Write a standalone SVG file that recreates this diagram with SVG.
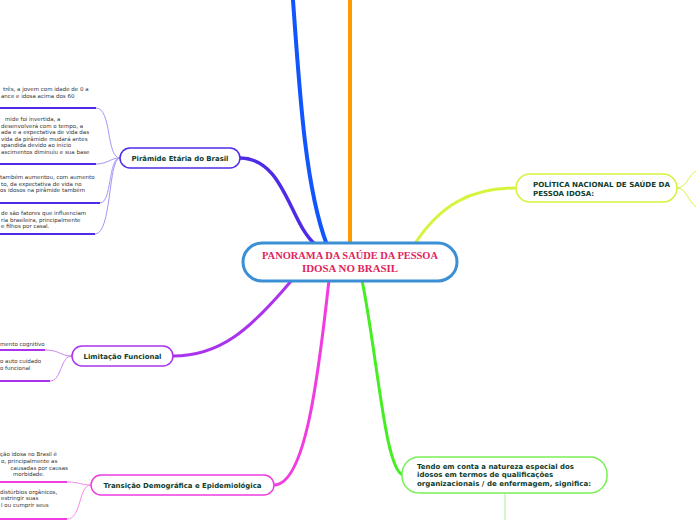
<svg xmlns="http://www.w3.org/2000/svg" width="696" height="520" viewBox="0 0 696 520">
<style>
.conn{fill:none;stroke-linecap:round}
.nodet{font-family:"DejaVu Sans",Verdana,sans-serif;font-weight:bold;font-size:7px;fill:#0f3d2e}
.small{font-family:"DejaVu Sans",Verdana,sans-serif;font-size:5.5px;fill:#333}
.sub{fill:none;stroke-width:1}
.ul{fill:none;stroke-width:2}
.box{fill:#fff}
</style>
<rect width="696" height="520" fill="#fff"/>
<g id="connectors">
  <path class="conn" d="M293,0 C300,100 306,190 327,245" stroke="#1155ff" stroke-width="4"/>
  <path class="conn" d="M350,0 V245" stroke="#ff9900" stroke-width="4"/>
  <path class="conn" d="M240,158 C285,158 290,225 316,245" stroke="#4f2be8" stroke-width="3.5"/>
  <path class="conn" d="M414,245 C440,205 470,188 516,188" stroke="#d4f53c" stroke-width="3"/>
  <path class="conn" d="M362,280 C378,360 385,470 403,475" stroke="#44ee22" stroke-width="3"/>
  <path class="conn" d="M329,280 C318,380 305,485 274,485" stroke="#f03ce0" stroke-width="3"/>
  <path class="conn" d="M292,280 C250,330 220,356 173,356" stroke="#aa33ee" stroke-width="3"/>
  <!-- Pirâmide sub-branches -->
  <g stroke="#a596f6">
    <path class="sub" d="M96,108 C112,108 106,158 120,158"/>
    <path class="sub" d="M96,164 C108,164 110,158 120,158"/>
    <path class="sub" d="M100,203 C112,203 108,158 120,158"/>
    <path class="sub" d="M95,234 C112,234 108,158 120,158"/>
  </g>
  <g stroke="#4f2be8">
    <path class="ul" d="M0,108 H96"/>
    <path class="ul" d="M0,164 H96"/>
    <path class="ul" d="M0,203 H100"/>
    <path class="ul" d="M0,234 H95"/>
  </g>
  <!-- Limitação sub-branches -->
  <g stroke="#cc88f2">
    <path class="sub" d="M45,350 C60,350 60,356 72,356"/>
    <path class="sub" d="M50,381 C62,381 60,356 72,356"/>
  </g>
  <g stroke="#aa33ee">
    <path class="ul" d="M0,350 H45"/>
    <path class="ul" d="M0,381 H50"/>
  </g>
  <!-- Transição sub-branches -->
  <g stroke="#f58be8">
    <path class="sub" d="M67,482 C80,482 80,485 91,485"/>
    <path class="sub" d="M67,519 C82,519 78,485 91,485"/>
  </g>
  <g stroke="#f03ce0">
    <path class="ul" d="M0,482 H67"/>
    <path class="ul" d="M0,519 H67"/>
  </g>
  <!-- Política right sub-branches -->
  <g stroke="#d4f53c">
    <path class="sub" d="M677,188 C686,188 688,176 696,171"/>
    <path class="sub" d="M677,188 C686,188 688,201 696,207"/>
  </g>
  <path class="sub" d="M505,493 V520" stroke="#aaee99"/>
</g>
<g id="center">
  <rect x="243" y="243" width="214" height="38" rx="19" fill="#fff" stroke="#3b8fd4" stroke-width="3"/>
  <text x="350" y="259" text-anchor="middle" font-family="Liberation Serif,serif" font-weight="bold" font-size="10" fill="#e0245e" textLength="176" lengthAdjust="spacingAndGlyphs">PANORAMA DA SAÚDE DA PESSOA</text>
  <text x="350" y="272" text-anchor="middle" font-family="Liberation Serif,serif" font-weight="bold" font-size="10" fill="#e0245e" textLength="96" lengthAdjust="spacingAndGlyphs">IDOSA NO BRASIL</text>
</g>
<g id="piramide">
  <rect class="box" x="120" y="148" width="120" height="20" rx="10" stroke="#4f2be8" stroke-width="1.5"/>
  <text class="nodet" x="180" y="161" text-anchor="middle" textLength="97" lengthAdjust="spacingAndGlyphs">Pirâmide Etária do Brasil</text>
</g>
<g id="piramide-texts" class="small">
  <text class="small" x="3" y="91">três, a jovem com idade de 0 a</text>
  <text class="small" x="1" y="98">ance e idosa acima dos 60</text>
  <text class="small" x="5" y="121">mide foi invertida, a</text>
  <text class="small" x="1" y="127.5">desenvolverá com o tempo, a</text>
  <text class="small" x="1" y="134">ada e a expectativa de vida das</text>
  <text class="small" x="1" y="140.5">vida da pirâmide mudará antes</text>
  <text class="small" x="1" y="147">spandida devido ao início</text>
  <text class="small" x="1" y="153.5">ascimentos diminuiu e sua base</text>
  <text class="small" x="0" y="179">também aumentou, com aumento</text>
  <text class="small" x="1" y="185.5">to, da expectativa de vida no</text>
  <text class="small" x="0" y="192">os idosos na pirâmide também</text>
  <text class="small" x="1" y="215">de são fatores que influenciam</text>
  <text class="small" x="1" y="221.5">ria brasileira, principalmente</text>
  <text class="small" x="1" y="228">e filhos por casal.</text>
</g>
<g id="limitacao">
  <rect class="box" x="72" y="346" width="101" height="20" rx="10" stroke="#aa33ee" stroke-width="1.5"/>
  <text class="nodet" x="122.5" y="359" text-anchor="middle" textLength="78" lengthAdjust="spacingAndGlyphs">Limitação Funcional</text>
</g>
<g id="limitacao-texts">
  <text class="small" x="0" y="345.5">mento cognitivo</text>
  <text class="small" x="0" y="363">o auto cuidado</text>
  <text class="small" x="0" y="370">o funcional</text>
</g>
<g id="transicao">
  <rect class="box" x="91" y="475" width="183" height="20" rx="10" stroke="#f03ce0" stroke-width="1.5"/>
  <text class="nodet" x="182.5" y="488" text-anchor="middle" textLength="158" lengthAdjust="spacingAndGlyphs">Transição Demográfica e Epidemiológica</text>
</g>
<g id="transicao-texts">
  <text class="small" x="0" y="456">ção idosa no Brasil é</text>
  <text class="small" x="1" y="463">o, principalmente as</text>
  <text class="small" x="10.5" y="469.5">causadas por causas</text>
  <text class="small" x="13" y="476">morbidade.</text>
  <text class="small" x="0" y="493.5">distúrbios orgânicos,</text>
  <text class="small" x="1" y="500">estringir suas</text>
  <text class="small" x="1" y="506.5">l ou cumprir seus</text>
</g>
<g id="politica">
  <rect class="box" x="516" y="174" width="161" height="28" rx="14" stroke="#d4f53c" stroke-width="1.5"/>
  <text class="nodet" x="533" y="186.5" textLength="137" lengthAdjust="spacingAndGlyphs">POLÍTICA NACIONAL DE SAÚDE DA</text>
  <text class="nodet" x="533" y="196">PESSOA IDOSA:</text>
</g>
<g id="tendo">
  <rect class="box" x="402" y="457" width="205" height="36" rx="17" stroke="#77f055" stroke-width="1.5"/>
  <text class="nodet" x="417" y="468.5" textLength="157" lengthAdjust="spacingAndGlyphs">Tendo em conta a natureza especial dos</text>
  <text class="nodet" x="417" y="477">idosos em termos de qualificações</text>
  <text class="nodet" x="417" y="485.5" textLength="174" lengthAdjust="spacingAndGlyphs">organizacionais / de enfermagem, significa:</text>
</g>
</svg>
